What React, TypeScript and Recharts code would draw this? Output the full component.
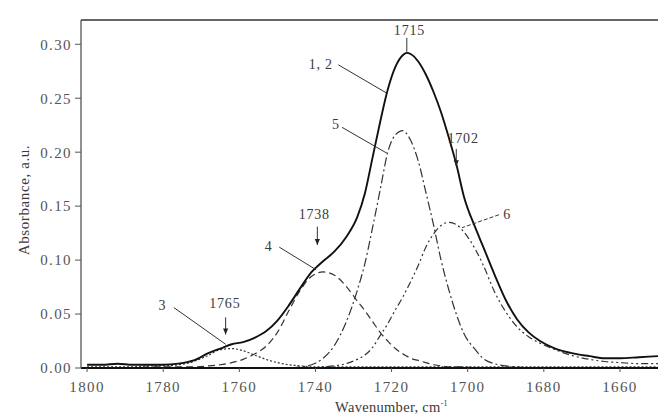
import React from 'react';
import {
    LineChart,
    Line,
    XAxis,
    YAxis,
    ReferenceLine,
    ReferenceDot,
} from 'recharts';

// wavenumber grid (cm-1) the curves were read at
const wavenumbers = [
    1800, 1796, 1792, 1788, 1784, 1780, 1776, 1772, 1768, 1765, 1762, 1759, 1756,
    1753, 1750, 1747, 1744, 1741, 1738, 1735, 1732, 1729, 1727, 1725, 1723, 1721,
    1719, 1717, 1716, 1715, 1713, 1711, 1709, 1707, 1705, 1703, 1701, 1698, 1696,
    1693, 1690, 1687, 1684, 1681, 1677, 1673, 1668, 1664, 1660, 1655, 1650,
];

// curves 1, 2 (measured + fitted sum)
const total = [
    0.003, 0.003, 0.004, 0.003, 0.003, 0.003, 0.004, 0.007, 0.014, 0.018, 0.022, 0.024, 0.028,
    0.034, 0.044, 0.058, 0.074, 0.089, 0.099, 0.108, 0.121, 0.140, 0.162, 0.195, 0.228, 0.258,
    0.279, 0.290, 0.292, 0.291, 0.284, 0.272, 0.256, 0.237, 0.214, 0.189, 0.159, 0.130, 0.113,
    0.087, 0.063, 0.045, 0.033, 0.025, 0.018, 0.014, 0.011, 0.009, 0.009, 0.010, 0.011,
];

// band 3 (~1765)
const band3 = [
    0.001, 0.001, 0.001, 0.001, 0.002, 0.002, 0.003, 0.006, 0.012, 0.017, 0.018, 0.016, 0.012,
    0.008, 0.005, 0.003, 0.002, 0.001, 0.001, 0.001, 0.001, 0.001, 0.001, 0.001, 0.001, 0.001,
    0.001, 0.001, 0.001, 0.001, 0.001, 0.001, 0.001, 0.001, 0.001, 0.001, 0.001, 0.001, 0.001,
    0.001, 0.001, 0.001, 0.001, 0.001, 0.001, 0.001, 0.001, 0.001, 0.001, 0.001, 0.001,
];

// band 4 (~1738)
const band4 = [
    0, 0, 0, 0, 0.001, 0.001, 0.001, 0.001, 0.002, 0.003, 0.005, 0.008, 0.013,
    0.020, 0.033, 0.053, 0.072, 0.085, 0.089, 0.086, 0.076, 0.062, 0.053, 0.043, 0.033, 0.025,
    0.018, 0.013, 0.011, 0.009, 0.007, 0.005, 0.003, 0.002, 0.001, 0.001, 0.001, 0, 0,
    0, 0, 0, 0, 0, 0, 0, 0, 0, 0, 0, 0,
];

// band 5 (~1717)
const band5 = [
    0, 0, 0, 0, 0, 0, 0, 0, 0, 0, 0, 0, 0,
    0, 0, 0, 0.001, 0.003, 0.009, 0.021, 0.042, 0.072, 0.097, 0.130, 0.165, 0.200,
    0.216, 0.220, 0.217, 0.211, 0.192, 0.163, 0.133, 0.100, 0.073, 0.050, 0.032, 0.017, 0.009,
    0.004, 0.002, 0.001, 0, 0, 0, 0, 0, 0, 0, 0, 0,
];

// band 6 (~1705)
const band6 = [
    0, 0, 0, 0, 0, 0, 0, 0, 0, 0, 0, 0, 0,
    0, 0, 0, 0, 0, 0.001, 0.002, 0.004, 0.008, 0.012, 0.019, 0.030, 0.041,
    0.054, 0.066, 0.073, 0.080, 0.095, 0.112, 0.124, 0.132, 0.135, 0.133, 0.126, 0.110, 0.096,
    0.071, 0.052, 0.038, 0.029, 0.023, 0.017, 0.012, 0.008, 0.006, 0.005, 0.004, 0.004,
];

const xTicks = [1800, 1780, 1760, 1740, 1720, 1700, 1680, 1660];
const yTicks = [0, 0.05, 0.1, 0.15, 0.2, 0.25, 0.3];
const xDomain = [1650, 1801.6];
const yMax = 0.3225;

// curve labels, placed in data units
const noteText = ['1715', '1, 2', '5', '1702', '6', '1738', '4', '1765', '3'];
const noteX = [1715.3, 1738.6, 1734.6, 1701.2, 1689.6, 1740.3, 1752.3, 1763.8, 1780.2];
const noteY = [0.313, 0.282, 0.226, 0.213, 0.143, 0.143, 0.113, 0.060, 0.058];

// leader lines: from (x1, y1) to (x2, y2), arrow at the end or not
const leadX1 = [1716, 1734.0, 1733.0, 1703, 1691.8, 1739.5, 1749.5, 1763.6, 1777.2];
const leadY1 = [0.306, 0.281, 0.223, 0.203, 0.142, 0.131, 0.112, 0.047, 0.056];
const leadX2 = [1716, 1721.4, 1721.2, 1703, 1701.5, 1739.5, 1739.8, 1763.6, 1763.6];
const leadY2 = [0.293, 0.255, 0.199, 0.187, 0.130, 0.114, 0.091, 0.031, 0.022];
const leadArrow = [false, false, false, true, false, true, false, true, false];
const leadDashed = [false, false, false, false, true, false, false, false, false];

const chartData = wavenumbers.map((wn, i) => ({
    wn,
    total: total[i],
    b3: band3[i],
    b4: band4[i],
    b5: band5[i],
    b6: band6[i],
}));

const FONT = '"Liberation Serif", "DejaVu Serif", serif';
const INK = '#3a3a3a';

const leaderShape = (arrow: boolean, dashed: boolean) => (props: any) => {
    const { x1, y1, x2, y2 } = props;
    let head = null;
    if (arrow) {
        const ang = Math.atan2(y2 - y1, x2 - x1);
        const len = 6;
        const w = 2.6;
        const bx = x2 - len * Math.cos(ang);
        const by = y2 - len * Math.sin(ang);
        const px = -Math.sin(ang) * w;
        const py = Math.cos(ang) * w;
        head = (
            <polygon
                points={`${x2},${y2} ${bx + px},${by + py} ${bx - px},${by - py}`}
                fill="#222"
            />
        );
    }
    return (
        <g>
            <line
                x1={x1}
                y1={y1}
                x2={x2}
                y2={y2}
                stroke="#333"
                strokeWidth={1}
                strokeDasharray={dashed ? '4 2' : undefined}
            />
            {head}
        </g>
    );
};

const noteShape = (text: string) => (props: any) => (
    <text
        x={props.cx}
        y={props.cy}
        dy="0.35em"
        textAnchor="middle"
        fontFamily={FONT}
        fontSize={14}
        letterSpacing={0.8}
        fill={INK}
    >
        {text}
    </text>
);

const XTitle = (props: any) => {
    const { x, y, width, height } = props.viewBox;
    return (
        <text
            x={x + width / 2 + 22}
            y={y + height - 2}
            textAnchor="middle"
            fontFamily={FONT}
            fontSize={14.5}
            letterSpacing={0.3}
            fill={INK}
        >
            Wavenumber, cm
            <tspan dy={-6} fontSize={8}>-1</tspan>
        </text>
    );
};

const YTitle = (props: any) => {
    const { x, y, height } = props.viewBox;
    const cx = x + 24;
    const cy = y + height / 2 + 6;
    return (
        <text
            x={cx}
            y={cy}
            transform={`rotate(-90, ${cx}, ${cy})`}
            dy="0.35em"
            textAnchor="middle"
            fontFamily={FONT}
            fontSize={15}
            letterSpacing={0.6}
            fill={INK}
        >
            Absorbance, a.u.
        </text>
    );
};

const tickStyle = { fontFamily: FONT, fontSize: 15, fill: '#555', letterSpacing: 1.4 };

export default function App() {
    return (
        <div style={{ position: 'absolute', left: 0, top: 0, background: '#fff' }}>
            <LineChart
                width={658}
                height={414}
                data={chartData}
                margin={{ top: 20, right: 0, bottom: 0, left: 0 }}
            >
                <XAxis
                    dataKey="wn"
                    type="number"
                    domain={xDomain}
                    reversed
                    allowDataOverflow
                    ticks={xTicks}
                    height={46}
                    tickSize={4}
                    tickMargin={9}
                    tick={tickStyle}
                    axisLine={{ stroke: '#111', strokeWidth: 2 }}
                    tickLine={{ stroke: '#555' }}
                    label={<XTitle />}
                />
                <YAxis
                    type="number"
                    domain={[0, yMax]}
                    allowDataOverflow
                    ticks={yTicks}
                    width={81}
                    tickSize={6}
                    tickMargin={3}
                    tickFormatter={(v: number) => v.toFixed(2)}
                    tick={tickStyle}
                    axisLine={{ stroke: '#555', strokeWidth: 1.3 }}
                    tickLine={{ stroke: '#555' }}
                    label={<YTitle />}
                />
                <ReferenceLine y={yMax} stroke="#333" strokeWidth={1.5} ifOverflow="visible" />

                <Line type="monotone" dataKey="b3" stroke="#333" strokeWidth={1.2} strokeDasharray="2 2" dot={false} isAnimationActive={false} />
                <Line type="monotone" dataKey="b4" stroke="#333" strokeWidth={1.2} strokeDasharray="7 4" dot={false} isAnimationActive={false} />
                <Line type="monotone" dataKey="b5" stroke="#333" strokeWidth={1.2} strokeDasharray="9 3 2 3" dot={false} isAnimationActive={false} />
                <Line type="monotone" dataKey="b6" stroke="#333" strokeWidth={1.2} strokeDasharray="7 3 2 3 2 3" dot={false} isAnimationActive={false} />
                <Line type="monotone" dataKey="total" stroke="#111" strokeWidth={1.9} dot={false} isAnimationActive={false} />

                {leadX1.map((x1, i) => (
                    <ReferenceLine
                        key={`lead-${i}`}
                        segment={[
                            { x: x1, y: leadY1[i] },
                            { x: leadX2[i], y: leadY2[i] },
                        ]}
                        ifOverflow="visible"
                        shape={leaderShape(leadArrow[i], leadDashed[i])}
                    />
                ))}
                {noteText.map((t, i) => (
                    <ReferenceDot
                        key={`note-${i}`}
                        x={noteX[i]}
                        y={noteY[i]}
                        ifOverflow="visible"
                        shape={noteShape(t)}
                    />
                ))}
            </LineChart>
        </div>
    );
}
